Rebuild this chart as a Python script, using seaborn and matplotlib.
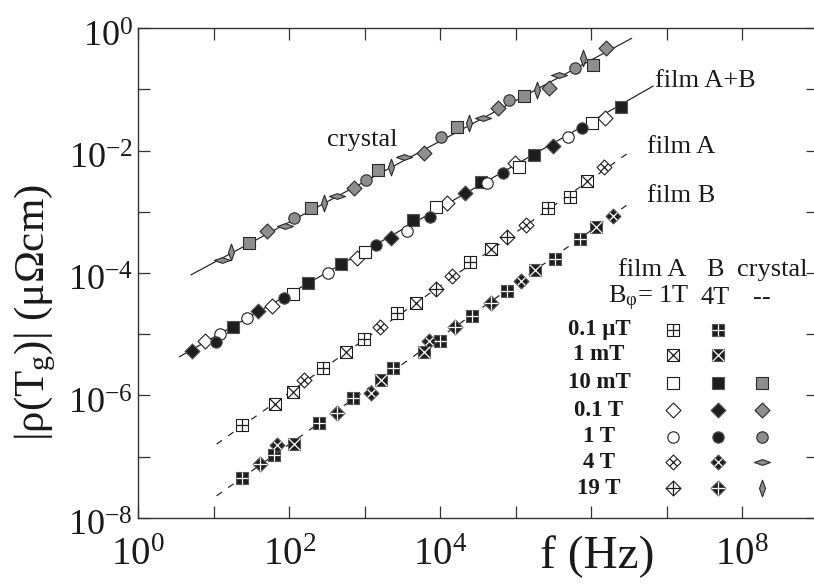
import matplotlib
matplotlib.use("Agg")
import numpy as np
import pandas as pd
import seaborn as sns
import matplotlib.pyplot as plt
import matplotlib.transforms as mtrans
from matplotlib.path import Path
from matplotlib.ticker import FixedLocator, FuncFormatter, NullLocator

# ---------------------------------------------------------------- data
# crystal: |rho(Tg)| vs f, marker kind = applied field
crystal_f = [12.7, 16.9, 29.0, 51.2, 87.7, 116, 194, 291, 425, 726, 1040, 1480,
             2220, 3330, 6140, 10200, 16500, 24000, 37200, 58600, 82000,
             128500, 189000, 278000, 377000, 608000, 769000, 1.045e6, 1.55e6]
crystal_rho = [1.64e-4, 2.24e-4, 3.07e-4, 4.88e-4, 5.96e-4, 7.85e-4, 1.15e-3,
               1.41e-3, 1.84e-3, 2.43e-3, 3.32e-3, 4.84e-3, 5.48e-3, 7.98e-3,
               9.08e-3, 1.69e-2, 2.47e-2, 2.81e-2, 3.38e-2, 4.93e-2, 6.73e-2,
               7.93e-2, 9.82e-2, 0.105, 0.173, 0.222, 0.324, 0.251, 0.482]
crystal_field = ["4T", "19T", "10mT", "0.1T", "4T", "1T", "10mT", "19T", "4T",
                 "0.1T", "1T", "10mT", "19T", "4T", "0.1T", "1T", "10mT", "19T",
                 "4T", "0.1T", "1T", "10mT", "19T", "0.1T", "4T", "1T", "19T",
                 "10mT", "0.1T"]

# films A and B measured at 10 mT / 0.1 T / 1 T (collapse onto one curve)
ab_f = [5.19, 7.57, 10.6, 12.1, 17.8, 27.5, 38.8, 59.5, 85.9, 111, 179, 329, 480,
        781, 1007, 1406, 2203, 3590, 4350, 7240, 8770, 12300, 21200, 34600, 42000,
        68300, 111000, 97500, 174000, 314000, 496000, 746000, 1.01e6, 1.52e6, 2.45e6]
ab_rho = [5.40e-6, 7.69e-6, 7.48e-6, 1.02e-5, 1.33e-5, 1.82e-5, 2.40e-5, 2.92e-5,
          3.96e-5, 4.51e-5, 6.81e-5, 9.93e-5, 1.39e-4, 1.79e-4, 2.19e-4, 2.85e-4,
          3.71e-4, 4.84e-4, 7.38e-4, 8.17e-4, 1.22e-3, 1.38e-3, 2.01e-3, 3.11e-3,
          2.93e-3, 4.37e-3, 5.48e-3, 6.37e-3, 8.51e-3, 1.19e-2, 1.66e-2, 2.32e-2,
          2.87e-2, 3.46e-2, 5.12e-2]
ab_field = ["0.1T", "0.1T", "1T", "1T", "10mT", "1T", "0.1T", "0.1T", "1T", "10mT",
            "10mT", "1T", "10mT", "0.1T", "10mT", "1T", "0.1T", "1T", "10mT", "1T",
            "10mT", "0.1T", "0.1T", "10mT", "1T", "1T", "10mT", "0.1T", "10mT",
            "0.1T", "1T", "1T", "10mT", "0.1T", "10mT"]
ab_film = ["B", "A", "B", "A", "B", "A", "B", "A", "B", "A", "B", "A", "B", "A",
           "A", "B", "B", "A", "B", "B", "A", "A", "B", "B", "A", "B", "A", "A",
           "B", "B", "A", "B", "A", "A", "B"]

# film A alone (B_phi = 1 T)
fa_f = [23.8, 64.7, 113, 157, 277, 564, 985, 1590, 2650, 4760, 8690, 14200,
        25100, 47000, 77600, 135000, 267000, 522000, 885000, 1.49e6]
fa_rho = [3.30e-7, 7.18e-7, 1.15e-6, 1.79e-6, 2.78e-6, 5.20e-6, 8.28e-6, 1.33e-5,
          2.20e-5, 3.25e-5, 5.46e-5, 8.97e-5, 1.52e-4, 2.45e-4, 3.82e-4, 6.11e-4,
          1.15e-3, 1.77e-3, 3.20e-3, 5.48e-3]
fa_field = ["0.1uT", "1mT", "1mT", "4T", "0.1uT", "1mT", "0.1uT", "4T", "0.1uT",
            "1mT", "19T", "4T", "0.1uT", "1mT", "19T", "4T", "0.1uT", "0.1uT",
            "1mT", "4T"]

# film B alone (B_phi = 4 T)
fb_f = [23.4, 40.9, 62.7, 69.3, 115, 250, 425, 705, 1200, 1630, 2380, 6080, 7040,
        9820, 15700, 26000, 46600, 75700, 116000, 179000, 326000, 719000,
        1.15e6, 1.92e6]
fb_rho = [4.54e-8, 7.52e-8, 1.07e-7, 1.55e-7, 1.60e-7, 3.52e-7, 5.24e-7, 9.00e-7,
          1.09e-6, 1.79e-6, 2.78e-6, 5.20e-6, 7.69e-6, 7.69e-6, 1.33e-5, 1.99e-5,
          3.28e-5, 5.15e-5, 7.43e-5, 1.12e-4, 1.71e-4, 3.63e-4, 5.73e-4, 8.63e-4]
fb_field = ["0.1uT", "19T", "0.1uT", "4T", "1mT", "0.1uT", "19T", "0.1uT", "4T",
            "1mT", "0.1uT", "1mT", "4T", "0.1uT", "19T", "0.1uT", "19T", "0.1uT",
            "4T", "1mT", "0.1uT", "0.1uT", "1mT", "4T"]

# power-law guide lines (end points)
crystal_fit_f, crystal_fit_rho = [4.99, 3.43e6], [9.33e-5, 0.687]
ab_fit_f, ab_fit_rho = [3.49, 6.62e6], [4.26e-6, 0.114]
fa_fit_f, fa_fit_rho = [10.9, 3.26e6], [1.60e-7, 9.63e-3]
fb_fit_f, fb_fit_rho = [10.9, 3.26e6], [2.28e-8, 1.40e-3]

# decades carrying a tick label (10^6 gives its place to the axis title)
x_label_exps = [0, 2, 4, 8]
y_label_exps = [0, -2, -4, -6, -8]

# legend table
legend_rows = ["0.1 \u03bcT", "1 mT", "10 mT", "0.1 T", "1 T", "4 T", "19 T"]
legend_keys = ["0.1uT", "1mT", "10mT", "0.1T", "1T", "4T", "19T"]
crystal_keys = ["10mT", "0.1T", "1T", "4T", "19T"]

# ---------------------------------------------------------------- style
sns.set_theme(style="ticks")
plt.rcParams["font.family"] = ["Liberation Serif", "DejaVu Serif"]
plt.rcParams["mathtext.fontset"] = "custom"
plt.rcParams["mathtext.rm"] = "Liberation Serif"
plt.rcParams["mathtext.it"] = "Liberation Serif:italic"
plt.rcParams["mathtext.bf"] = "Liberation Serif:bold"
INK = "#1e1e1e"

LENS_H = Path([(-1, 0), (0, 0.36), (1, 0), (0, -0.36), (-1, 0)],
              [Path.MOVETO, Path.LINETO, Path.LINETO, Path.LINETO, Path.CLOSEPOLY])
LENS_V = Path([(0, -1), (0.36, 0), (0, 1), (-0.36, 0), (0, -1)],
              [Path.MOVETO, Path.LINETO, Path.LINETO, Path.LINETO, Path.CLOSEPOLY])

SQ, DI, CI = 8.4, 7.6, 8.2
# kind -> (base marker, base size, overlay marker, overlay size)
SHAPES = {
    "0.1uT": ("s", SQ, "+", SQ),
    "1mT": ("s", SQ, "x", SQ),
    "10mT": ("s", SQ, None, 0),
    "0.1T": ("D", DI, None, 0),
    "1T": ("o", CI, None, 0),
    "4T": ("D", DI, "x", DI * 0.707),
    "19T": ("D", DI, "+", DI * 1.414),
}
CRYSTAL_SHAPES = {"4T": (LENS_H, 11.5), "19T": (LENS_V, 12.0)}

FILL = {"A": ("white", INK, INK), "B": (INK, "#555555", "white"),
        "C": ("#8e8e8e", "#2a2a2a", None)}


def draw(ax, xs, ys, kind, variant, z=3, **kw):
    face, edge, cross = FILL[variant]
    if variant == "C" and kind in CRYSTAL_SHAPES:
        mk, ms = CRYSTAL_SHAPES[kind]
        over = None
    else:
        mk, ms, over, oms = SHAPES[kind]
    if "transform" in kw:
        ax.scatter(xs, ys, marker=mk, s=ms ** 2, facecolor=face, edgecolor=edge,
                   linewidths=0.8, zorder=z, clip_on=False, **kw)
    else:
        sns.scatterplot(x=xs, y=ys, marker=mk, s=ms ** 2, color=face,
                        edgecolor=edge, linewidth=0.8, zorder=z, ax=ax,
                        legend=False)
    if over:
        ax.scatter(xs, ys, marker=over, s=oms ** 2, c=cross, linewidths=0.9,
                   zorder=z + 0.1, clip_on=False, **kw)


fig = plt.figure(figsize=(8.14, 5.87), dpi=100)
ax = fig.add_axes([138.3 / 814, 1 - 517.7 / 587, 679.5 / 814, 489.4 / 587])
ax.set_xscale("log")
ax.set_yscale("log")

# guide lines
for fx, fy, ls in [(crystal_fit_f, crystal_fit_rho, "-"),
                   (ab_fit_f, ab_fit_rho, "-"),
                   (fa_fit_f, fa_fit_rho, (0, (5.5, 6.5))),
                   (fb_fit_f, fb_fit_rho, (0, (5.5, 6.5)))]:
    sns.lineplot(x=fx, y=fy, color=INK, linewidth=0.85, linestyle=ls, ax=ax,
                 zorder=1, estimator=None, sort=False)

# data points
cry = pd.DataFrame({"f": crystal_f, "rho": crystal_rho, "field": crystal_field})
for k, g in cry.groupby("field"):
    draw(ax, g["f"].values, g["rho"].values, k, "C")
ab = pd.DataFrame({"f": ab_f, "rho": ab_rho, "field": ab_field, "film": ab_film})
for (k, film), g in ab.groupby(["field", "film"]):
    draw(ax, g["f"].values, g["rho"].values, k, film)
fa = pd.DataFrame({"f": fa_f, "rho": fa_rho, "field": fa_field})
for k, g in fa.groupby("field"):
    draw(ax, g["f"].values, g["rho"].values, k, "A")
fb = pd.DataFrame({"f": fb_f, "rho": fb_rho, "field": fb_field})
for k, g in fb.groupby("field"):
    draw(ax, g["f"].values, g["rho"].values, k, "B")

ax.set_xlim(1, 1e9)
ax.set_ylim(1e-8, 1)

# axes frame and ticks
for sp in ax.spines.values():
    sp.set_visible(True)
    sp.set_linewidth(1.0)
    sp.set_color("#333333")
ax.xaxis.set_major_locator(FixedLocator(10.0 ** np.arange(0, 10)))
ax.yaxis.set_major_locator(FixedLocator(10.0 ** np.arange(-8, 1)))
ax.xaxis.set_minor_locator(NullLocator())
ax.yaxis.set_minor_locator(NullLocator())


def make_formatter(exps):
    def fmt(v, pos):
        e = int(round(np.log10(v)))
        return r"$\mathregular{10^{%d}}$" % e if e in exps else ""
    return FuncFormatter(fmt)


ax.xaxis.set_major_formatter(make_formatter(x_label_exps))
ax.yaxis.set_major_formatter(make_formatter(y_label_exps))
ax.tick_params(which="major", direction="in", length=8.5, width=0.9,
               top=True, right=True, color="#333333", labelsize=26,
               labelcolor="#1a1a1a")
ax.tick_params(axis="x", pad=14, labelsize=28)
ax.tick_params(axis="y", pad=4)
# y tick labels sit slightly below their ticks
shift = mtrans.ScaledTranslation(0, -4 / 72, fig.dpi_scale_trans)
for lab in ax.get_yticklabels():
    lab.set_transform(lab.get_transform() + shift)

ax.set_xlabel("f (Hz)", fontsize=34, color="#1a1a1a", labelpad=0)
ax.xaxis.set_label_coords(0.675, -0.035)
ax.set_ylabel("|\u03c1(T$_\\mathregular{g}$)| (\u03bc\u03a9cm)", fontsize=31,
              color="#1a1a1a")
ax.yaxis.set_label_coords(-0.118, 0.42)

# curve labels
tk = dict(fontsize=19, color="#1a1a1a", va="center")
fig.text(327 / 814, 1 - 140 / 587, "crystal", **tk)
fig.text(655 / 814, 1 - 81 / 587, "film A+B", **tk)
fig.text(647 / 814, 1 - 147 / 587, "film A", **tk)
fig.text(647 / 814, 1 - 196 / 587, "film B", **tk)

# legend table
fig.text(618 / 814, 1 - 270 / 587, "film A", **tk)
fig.text(715 / 814, 1 - 270 / 587, "B", ha="center", **tk)
fig.text(737 / 814, 1 - 270 / 587, "crystal", **tk)
fig.text(608 / 814, 1 - 298 / 587, "B$_{\\mathregular{\u03c6}}$= 1T", **tk)
fig.text(715 / 814, 1 - 298 / 587, "4T", ha="center", **tk)
fig.text(762 / 814, 1 - 298 / 587, "--", ha="center", **tk)

row_y = [330, 355, 383, 410, 437, 462, 488]
for lab, key, py in zip(legend_rows, legend_keys, row_y):
    yy = 1 - py / 587
    fig.text(599 / 814, yy, lab, fontsize=16.5, fontweight="bold",
             color="#1a1a1a", ha="center", va="center")
    draw(ax, [673.3 / 814], [yy], key, "A", transform=fig.transFigure)
    draw(ax, [718.3 / 814], [yy], key, "B", transform=fig.transFigure)
    if key in crystal_keys:
        draw(ax, [761.7 / 814], [yy], key, "C", transform=fig.transFigure)

fig.savefig("out.png", dpi=100)
